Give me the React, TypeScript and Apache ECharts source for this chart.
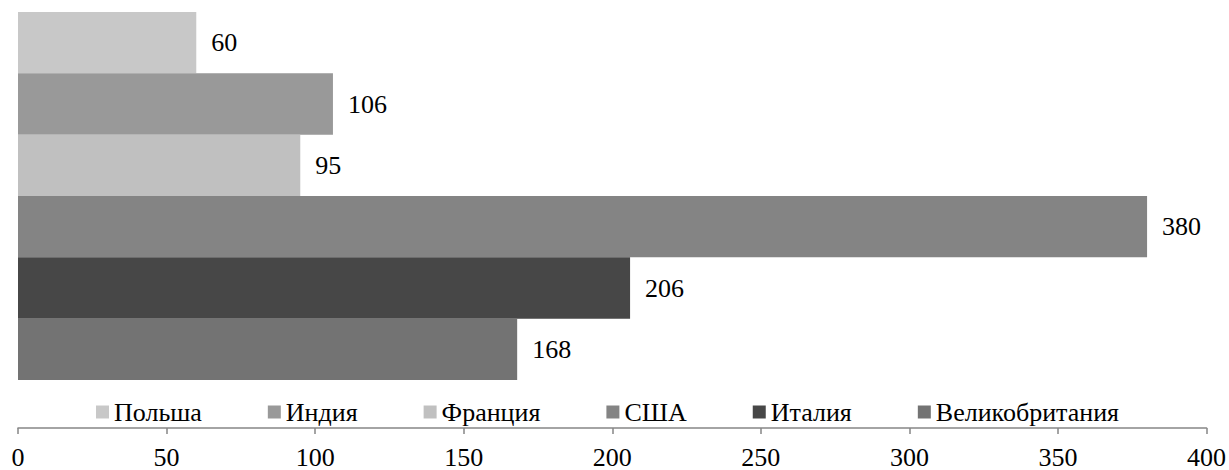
import React, { useEffect, useRef } from "react";
import * as echarts from "echarts";

const seriesNames = ["Польша", "Индия", "Франция", "США", "Италия", "Великобритания"];
const seriesValues = [60, 106, 95, 380, 206, 168];
const seriesColors = ["#c8c8c8", "#999999", "#c0c0c0", "#848484", "#474747", "#737373"];
const categories = [""];
const xTicks = { min: 0, max: 400, interval: 50 };

const FONT = "Liberation Serif";

export default function App() {
  const ref = useRef<HTMLDivElement>(null);
  useEffect(() => {
    if (!ref.current) return;
    const chart = echarts.init(ref.current, undefined, { renderer: "svg" });
    chart.setOption({
      animation: false,
      textStyle: { fontFamily: FONT },
      grid: { left: 18, right: 19, top: 12, bottom: 89, containLabel: false },
      legend: {
        data: seriesNames,
        left: 91,
        top: 394,
        itemWidth: 13,
        itemHeight: 13,
        itemGap: 66,
        icon: "rect",
        textStyle: { fontFamily: FONT, fontSize: 26, color: "#000" },
      },
      xAxis: {
        type: "value",
        min: xTicks.min,
        max: xTicks.max,
        interval: xTicks.interval,
        position: "bottom",
        offset: 48,
        splitLine: { show: false },
        axisLine: { show: true, lineStyle: { color: "#868686", width: 1.5 } },
        axisTick: { show: true, length: 6, lineStyle: { color: "#868686", width: 1.5 } },
        axisLabel: { fontFamily: FONT, fontSize: 26, color: "#000", margin: 16 },
      },
      yAxis: {
        type: "category",
        data: categories,
        inverse: true,
        axisLine: { show: false },
        axisTick: { show: false },
        axisLabel: { show: false },
      },
      series: seriesNames.map((name, i) => ({
        name,
        type: "bar",
        data: [seriesValues[i]],
        barGap: "0%",
        barCategoryGap: "0%",
        itemStyle: { color: seriesColors[i] },
        label: {
          show: true,
          position: "right",
          distance: 15,
          fontFamily: FONT,
          fontSize: 26,
          color: "#000",
        },
      })),
    });
    return () => chart.dispose();
  }, []);
  return (
    <div
      ref={ref}
      style={{ position: "absolute", left: 0, top: 0, width: 1229, height: 470 }}
    />
  );
}
